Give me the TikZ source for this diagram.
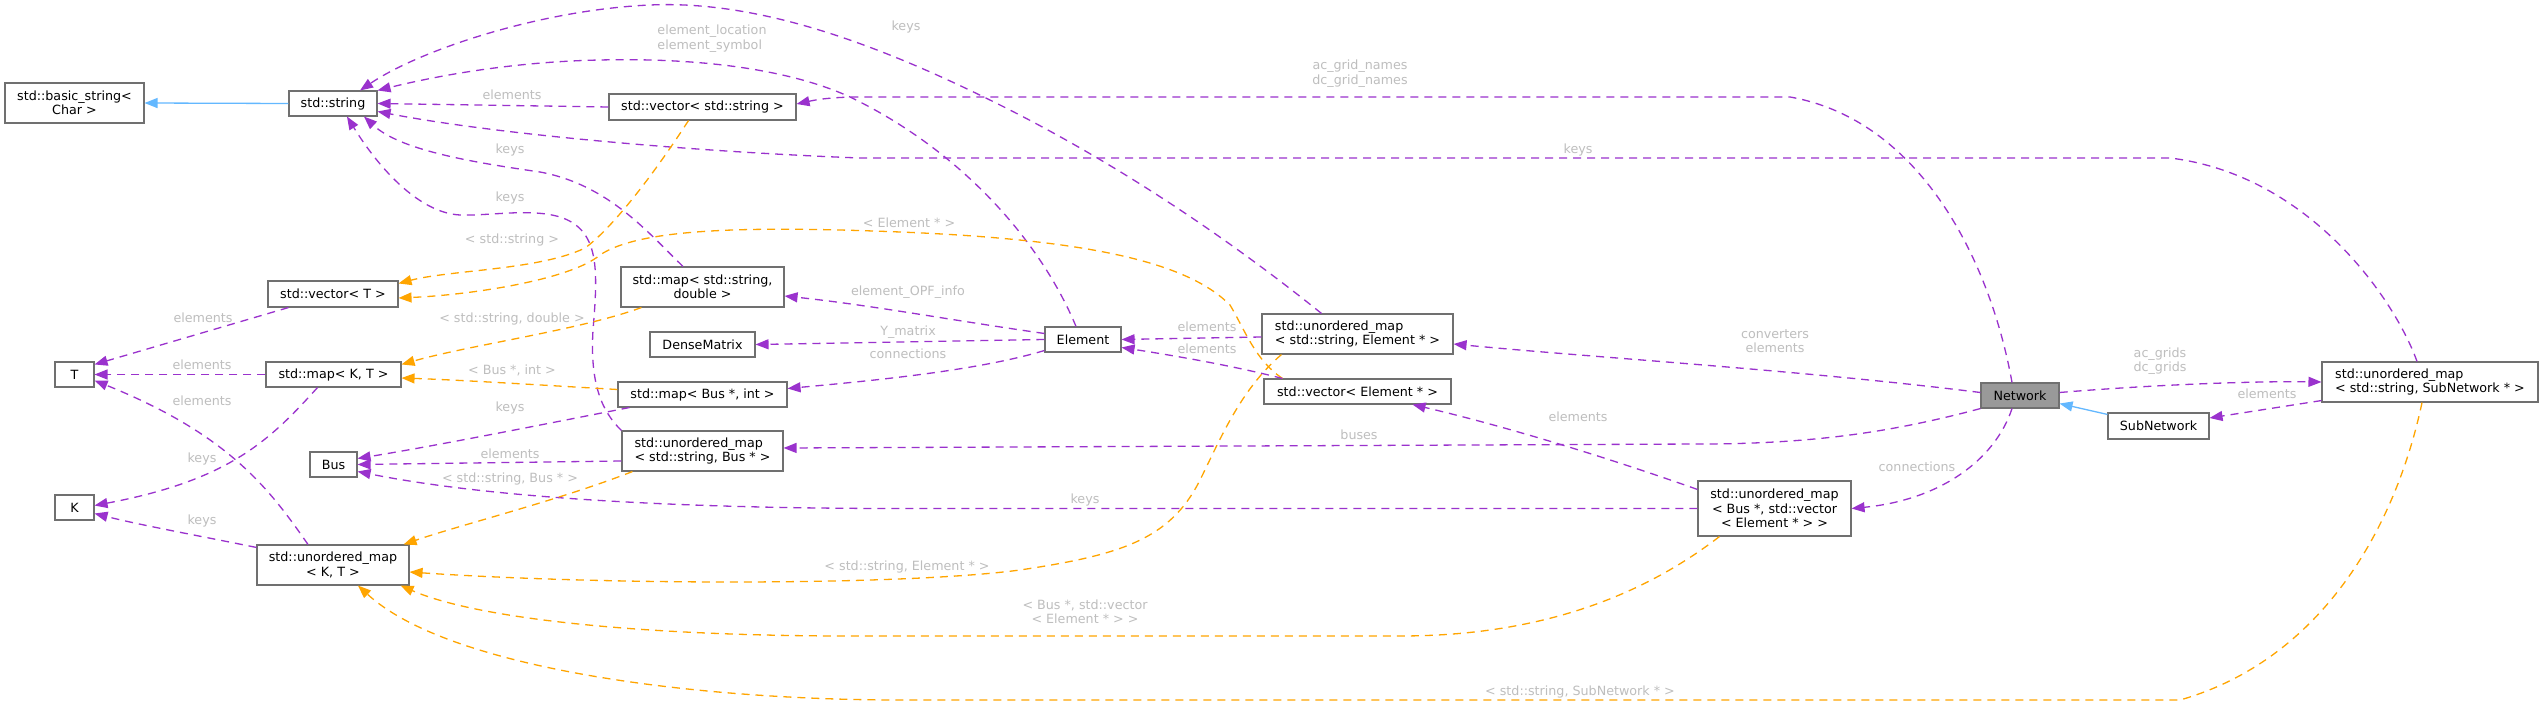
\documentclass[tikz,border=0pt]{standalone}
\usepackage{fontspec}
\setmainfont{DejaVu Sans}
\usetikzlibrary{arrows.meta,calc}
\definecolor{dpurple}{HTML}{9A32CD}
\definecolor{dorange}{HTML}{FFA500}
\definecolor{dblue}{HTML}{63B8FF}
\definecolor{dborder}{HTML}{707070}
\definecolor{dfill}{HTML}{999999}
\definecolor{dlabel}{HTML}{BEBEBE}
\begin{document}
\begin{tikzpicture}[x=1pt,y=-1pt,
  every node/.style={font=\fontsize{12.7}{14.4}\selectfont, inner sep=0pt},
  box/.style={draw=dborder, line width=1.1pt, fill=white, align=center, text=black},
  lbl/.style={text=dlabel, align=center, text height=9.5pt, text depth=2.7pt},
  tipstyle/.style={-{Triangle[length=13pt,width=10pt]}},
  pe/.style={draw=dpurple, line width=1.3pt, dash pattern=on 8pt off 6pt, tipstyle},
  oe/.style={draw=dorange, line width=1.3pt, dash pattern=on 8pt off 6pt, tipstyle},
  ie/.style={draw=dblue, line width=1.3pt, tipstyle}]
\fill[white] (0,0) rectangle (2543,703);
\useasboundingbox (0,0) rectangle (2543,703);

% nodes
\node[box, minimum width=139pt, minimum height=40pt] (bstr) at (74.5,103) {std::basic\_string<\\Char >};
\node[box, minimum width=88pt, minimum height=25pt] (str) at (333,103.5) {std::string};
\node[box, minimum width=187pt, minimum height=26pt] (vstr) at (702.5,107) {std::vector< std::string >};
\node[box, minimum width=130pt, minimum height=26pt] (vT) at (333,294) {std::vector< T >};
\node[box, minimum width=163pt, minimum height=40pt] (msd) at (702.5,287) {std::map< std::string,\\double >};
\node[box, minimum width=105pt, minimum height=25pt] (dm) at (702.5,344.5) {DenseMatrix};
\node[box, minimum width=39pt, minimum height=25pt] (T) at (74.5,374.5) {T};
\node[box, minimum width=135pt, minimum height=25pt] (mKT) at (333.5,374.5) {std::map< K, T >};
\node[box, minimum width=169pt, minimum height=25pt] (mbi) at (702.5,394.5) {std::map< Bus *, int >};
\node[box, minimum width=47pt, minimum height=25pt] (bus) at (333.5,464.5) {Bus};
\node[box, minimum width=161pt, minimum height=40pt, align=left] (usb) at (702.5,451) {std::unordered\_map\\< std::string, Bus * >};
\node[box, minimum width=39pt, minimum height=25pt] (K) at (74.5,507.5) {K};
\node[box, minimum width=152pt, minimum height=40pt] (uKT) at (333,565) {std::unordered\_map\\< K, T >};
\node[box, minimum width=76pt, minimum height=25pt] (el) at (1083,339.5) {Element};
\node[box, minimum width=191pt, minimum height=40pt, align=left] (uel) at (1357.5,334) {std::unordered\_map\\< std::string, Element * >};
\node[box, minimum width=187pt, minimum height=25pt] (vel) at (1357.5,391.5) {std::vector< Element * >};
\node[box, fill=dfill, minimum width=78pt, minimum height=25pt] (net) at (2020,395.5) {Network};
\node[box, minimum width=101pt, minimum height=26pt] (sub) at (2158.5,426) {SubNetwork};
\node[box, minimum width=216pt, minimum height=40pt, align=left] (usn) at (2430,382) {std::unordered\_map\\< std::string, SubNetwork * >};
\node[box, minimum width=153pt, minimum height=55pt] (ubv) at (1774.5,508.5) {std::unordered\_map\\< Bus *, std::vector\\< Element * > >};

% inheritance
\draw[ie] (str.west) -- (bstr.east);
\draw[ie] ($(sub.north west)+(0,2)$) -- ($(net.south east)+(0,-5)$);

% std::string users
\draw[pe] (vstr.west) -- (str.east);
\draw[pe] ($(msd.north)+(-19.5,0)$) .. controls (650,235) and (610,185) .. (540,172) .. controls (470,162) and (400,150) .. ($(str.south)+(31,0)$);
\draw[pe] (usb.north west) .. controls (600,410) and (590,380) .. (593,330) .. controls (598,270) and (600,230) .. (560,217) .. controls (530,208) and (490,216) .. (460,215) .. controls (420,213) and (380,170) .. ($(str.south)+(14,0)$);
\draw[pe] ($(el.north)+(-7,0)$) .. controls (1040,240) and (960,150) .. (850,97) .. controls (780,65) and (680,58) .. (600,60) .. controls (500,62) and (420,80) .. (str.north east);
\draw[pe] ($(uel.north)+(-36,0)$) .. controls (1230,240) and (1120,165) .. (1000,105) .. controls (880,45) and (760,0) .. (650,5) .. controls (540,10) and (420,50) .. ($(str.north)+(27,0)$);
\draw[pe] ($(usn.north)+(-13,0)$) .. controls (2395,300) and (2310,175) .. (2170,158) -- (860,158) .. controls (700,152) and (500,135) .. ($(str.east)+(0,8)$);
\draw[pe] ($(net.north)+(-8,0)$) .. controls (1990,260) and (1920,120) .. (1790,97) -- (860,97) .. controls (830,97) and (815,100) .. ($(vstr.east)+(0,-3)$);

% vector<T>
\draw[oe] ($(vstr.south)+(-14,0)$) .. controls (650,180) and (610,230) .. (585,248) .. controls (540,270) and (450,270) .. ($(vT.north east)+(0,3)$);
\draw[oe] ($(vel.north west)+(19,0)$) .. controls (1255,360) and (1245,330) .. (1230,305) .. controls (1190,265) and (1100,240) .. (900,232) .. controls (750,226) and (640,228) .. (600,255) .. controls (570,280) and (470,295) .. ($(vT.east)+(0,4)$);

% map<K,T>
\draw[oe] ($(msd.south west)+(21,0)$) .. controls (580,330) and (470,345) .. ($(mKT.north east)+(0,3)$);
\draw[oe] ($(mbi.west)+(0,-5)$) .. controls (540,385) and (460,380) .. ($(mKT.east)+(0,3.5)$);

% T and K
\draw[pe] ($(vT.south west)+(21,0)$) -- ($(T.north east)+(0,3)$);
\draw[pe] (mKT.west) -- (T.east);
\draw[pe] ($(uKT.north)+(-25,0)$) .. controls (270,490) and (230,435) .. ($(T.east)+(0,6)$);
\draw[pe] ($(mKT.south)+(-16,0)$) .. controls (270,440) and (230,480) .. ($(K.east)+(0,-2)$);
\draw[pe] ($(uKT.north west)+(0,3)$) .. controls (200,536) and (140,525) .. ($(K.east)+(0,6)$);

% Bus
\draw[pe] ($(mbi.south west)+(12,0)$) .. controls (540,425) and (440,445) .. ($(bus.east)+(0,-6)$);
\draw[pe] ($(usb.west)+(0,10)$) -- (bus.east);
\draw[pe] (ubv.west) -- (900,508.5) .. controls (700,508.5) and (500,500) .. ($(bus.east)+(0,7)$);

% unordered_map<K,T>
\draw[oe] ($(usb.south west)+(11,0)$) .. controls (560,500) and (460,525) .. ($(uKT.north east)+(-6,0)$);
\draw[oe] ($(uel.south west)+(20,0)$) .. controls (1240,390) and (1220,440) .. (1200,480) .. controls (1170,540) and (1120,555) .. (1020,570) .. controls (900,586) and (600,585) .. ($(uKT.east)+(0,7)$);
\draw[oe] ($(ubv.south west)+(22,0)$) .. controls (1650,590) and (1550,636) .. (1400,636) -- (850,636) .. controls (650,636) and (480,620) .. ($(uKT.south east)+(-9,0)$);
\draw[oe] ($(usn.south)+(-8,0)$) .. controls (2395,530) and (2320,660) .. (2180,700) -- (900,700) .. controls (700,700) and (450,670) .. ($(uKT.south)+(25,0)$);

% Element uses
\draw[pe] ($(el.west)+(0,-6)$) .. controls (950,320) and (870,305) .. ($(msd.east)+(0,9)$);
\draw[pe] (el.west) -- (dm.east);
\draw[pe] ($(el.west)+(0,11)$) .. controls (980,370) and (880,380) .. ($(mbi.east)+(0,-6)$);
\draw[pe] ($(uel.west)+(0,3)$) -- (el.east);
\draw[pe] ($(vel.north west)+(19,0)$) .. controls (1230,365) and (1170,355) .. ($(el.east)+(0,8)$);

% Network uses
\draw[pe] ($(net.west)+(0,-3)$) .. controls (1800,370) and (1600,358) .. ($(uel.east)+(0,10)$);
\draw[pe] (net.south west) .. controls (1900,430) and (1820,444) .. (1700,444) -- ($(usb.east)+(0,-3)$);
\draw[pe] ($(ubv.north west)+(0,9)$) .. controls (1600,455) and (1500,425) .. ($(vel.south)+(55,0)$);
\draw[pe] ($(net.south)+(-8,0)$) .. controls (1995,460) and (1940,500) .. (ubv.east);
\draw[pe] ($(net.east)+(0,-3)$) .. controls (2150,385) and (2250,381) .. (usn.west);
\draw[pe] ($(usn.south west)+(0,-2)$) -- ($(sub.east)+(0,-8)$);

% labels
\node[lbl] (l2) at (512,96) {elements};
\node[lbl] (l3) at (510,150) {keys};
\node[lbl] (l4) at (510,198) {keys};
\node[lbl, align=left] (l5) at (712,46) {element\_location\\element\_symbol};
\node[lbl] (l6) at (906,27) {keys};
\node[lbl] (l7) at (1360,81) {ac\_grid\_names\\dc\_grid\_names};
\node[lbl] (l8) at (1578,150) {keys};
\node[lbl] (l9) at (512,240) {< std::string >};
\node[lbl] (l10) at (909,224) {< Element * >};
\node[lbl] (l11) at (512,319) {< std::string, double >};
\node[lbl] (l12) at (512,371) {< Bus *, int >};
\node[lbl] (l13) at (203,319) {elements};
\node[lbl] (l14) at (202,366) {elements};
\node[lbl] (l15) at (202,402) {elements};
\node[lbl] (l16) at (202,459) {keys};
\node[lbl] (l17) at (202,521) {keys};
\node[lbl] (l18) at (510,408) {keys};
\node[lbl] (l19) at (510,455) {elements};
\node[lbl] (l20) at (1085,500) {keys};
\node[lbl] (l21) at (510,479) {< std::string, Bus * >};
\node[lbl] (l22) at (907,567) {< std::string, Element * >};
\node[lbl] (l23) at (1085,620) {< Bus *, std::vector\\< Element * > >};
\node[lbl] (l24) at (1580,692) {< std::string, SubNetwork * >};
\node[lbl] (l25) at (908,292) {element\_OPF\_info};
\node[lbl] (l26) at (908,332) {Y\_matrix};
\node[lbl] (l27) at (908,355) {connections};
\node[lbl] (l28) at (1207,328) {elements};
\node[lbl] (l29) at (1207,350) {elements};
\node[lbl] (l30) at (1775,349) {converters\\elements};
\node[lbl] (l31) at (1359,436) {buses};
\node[lbl] (l32) at (1578,418) {elements};
\node[lbl] (l33) at (1917,468) {connections};
\node[lbl] (l34) at (2160,368) {ac\_grids\\dc\_grids};
\node[lbl] (l36) at (2267,395) {elements};
\end{tikzpicture}
\end{document}
